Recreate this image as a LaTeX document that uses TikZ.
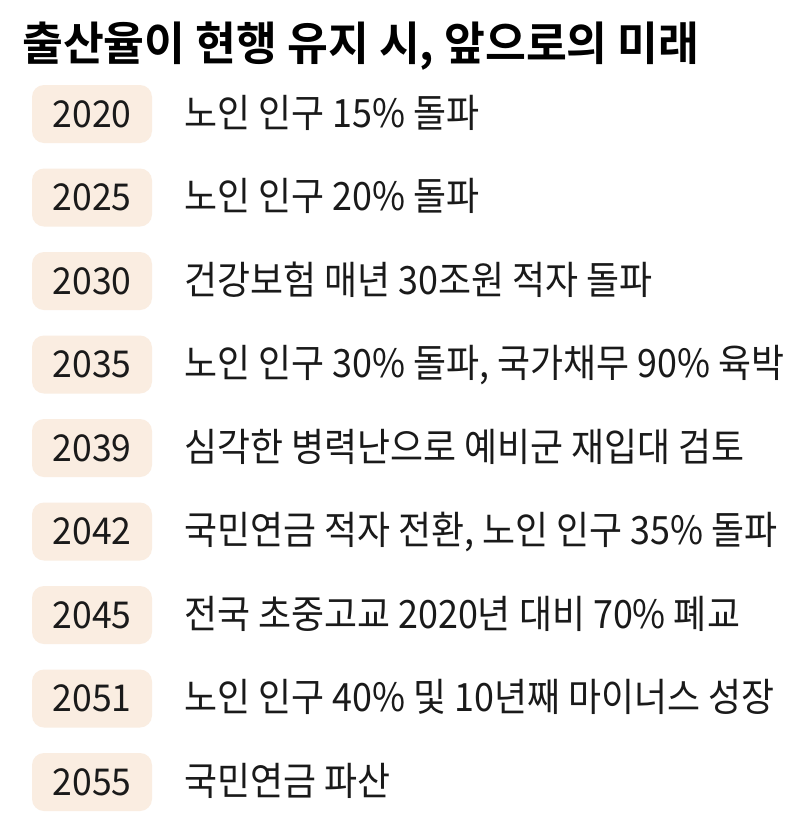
\documentclass[tikz,border=0pt]{standalone}
\usepackage{fontspec}
\setmainfont{Noto Sans CJK KR}
\newfontfamily\titlefont{Noto Sans CJK KR Bold}[FakeStretch=0.965]
\newfontfamily\rowfont{Noto Sans CJK KR}[FakeStretch=0.92]
\newfontfamily\yearfont{Noto Sans CJK KR}[FakeStretch=0.96]
\definecolor{pill}{HTML}{FAEDE1}
\definecolor{ink}{HTML}{1A1A1A}
\tikzset{
  pillbox/.style={fill=pill, rounded corners=12pt, minimum width=120pt, minimum height=58pt, inner sep=0pt},
  yeartext/.style={anchor=base, text=ink, font=\yearfont\fontsize{37}{40}\selectfont, inner sep=0pt},
  rowtext/.style={anchor=base west, text=ink, font=\rowfont\fontsize{39}{42}\selectfont, inner sep=0pt},
}
\begin{document}
\begin{tikzpicture}[x=1pt,y=-1pt]
\useasboundingbox[fill=white] (0,0) rectangle (809,836);
\node[anchor=base west, text=black, inner sep=0pt, font=\titlefont\fontsize{46}{50}\selectfont] (title) at (22,60) {출산율이 현행 유지 시, 앞으로의 미래};
\foreach \i/\yr/\txt in {0/2020/노인 인구 15\% 돌파,
  1/2025/노인 인구 20\% 돌파,
  2/2030/건강보험 매년 30조원 적자 돌파,
  3/2035/{노인 인구 30\% 돌파, 국가채무 90\% 육박},
  4/2039/심각한 병력난으로 예비군 재입대 검토,
  5/2042/{국민연금 적자 전환, 노인 인구 35\% 돌파},
  6/2045/전국 초중고교 2020년 대비 70\% 폐교,
  7/2051/노인 인구 40\% 및 10년째 마이너스 성장,
  8/2055/국민연금 파산}{
  \pgfmathsetmacro{\cy}{114+83.5*\i}
  \node[pillbox] (p\i) at (92,\cy) {};
  \node[yeartext] (y\i) at (92,\cy+13) {\yr};
  \node[rowtext] (t\i) at (184,\cy+13) {\txt};
}
\end{tikzpicture}
\end{document}
